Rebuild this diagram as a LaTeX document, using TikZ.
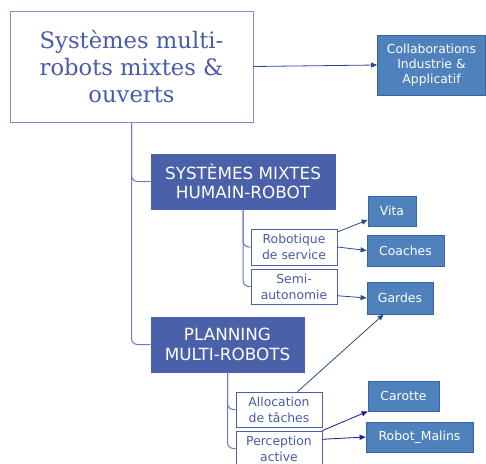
\documentclass[tikz,border=0pt]{standalone}
\usepackage{fontspec}
\setmainfont{DejaVu Sans}
\newfontfamily\titlefont{DejaVu Serif}
\usetikzlibrary{arrows.meta}
\definecolor{titleblue}{RGB}{74,91,168}
\definecolor{rootline}{RGB}{127,143,200}
\definecolor{darkbox}{RGB}{74,96,168}
\definecolor{leafblue}{RGB}{79,129,189}
\definecolor{leafline}{RGB}{58,100,160}
\definecolor{treeline}{RGB}{105,122,190}
\definecolor{arrowblue}{RGB}{45,75,135}
\definecolor{navy}{RGB}{30,30,150}
\tikzset{
  sized/.style 2 args={minimum width=#1*0.75pt, minimum height=#2*0.75pt, inner sep=0pt},
  rootbox/.style={draw=rootline, line width=0.75pt, fill=white, text=titleblue,
    font=\titlefont\fontsize{17}{20.5}\selectfont, align=center},
  mainbox/.style={draw=darkbox, fill=darkbox, text=white,
    font=\fontsize{12.6}{14.5}\selectfont, align=center},
  subbox/.style={draw=darkbox, line width=0.6pt, fill=white, text=titleblue,
    font=\fontsize{9.3}{12}\selectfont, align=center},
  leafbox/.style={draw=leafline, line width=0.6pt, fill=leafblue, text=white,
    font=\fontsize{9.3}{11}\selectfont, align=center},
  tree/.style={draw=treeline, line width=0.75pt, rounded corners=4.5pt},
  link/.style={draw=arrowblue, line width=0.6pt, -{Triangle[length=4.5pt,width=3.8pt]}},
  navylink/.style={link, draw=navy, fill=navy}
}
\begin{document}
\begin{tikzpicture}[x=0.75pt,y=-0.75pt]
\useasboundingbox (0,0) rectangle (486,464);
\begin{scope}
\clip (0,0) rectangle (486,464);
% racine
\node [rootbox, sized={243}{111}] (root) at (131.5,66.5) {Systèmes multi-\\robots mixtes \&\\ouverts};
\node [leafbox, sized={108}{60}] (collab) at (431.5,65) {Collaborations\\Industrie \&\\Applicatif};
% deux branches
\node [mainbox, sized={184}{55}] (sys) at (243,181.5) {SYSTÈMES MIXTES\\HUMAIN-ROBOT};
\node [mainbox, sized={153}{55}] (plan) at (227.5,344.5) {PLANNING\\MULTI-ROBOTS};
% sous-themes
\node [subbox, sized={86}{36}] (robo) at (294,247) {Robotique\\de service};
\node [subbox, sized={86}{35}] (semi) at (294,286.5) {Semi-\\autonomie};
\node [subbox, sized={86}{35}] (alloc) at (279,409.5) {Allocation\\de tâches};
\node [subbox, sized={86}{35}] (perc) at (279,448.5) {Perception\\active};
% projets
\node [leafbox, sized={48}{30}] (vita) at (392,211) {Vita};
\node [leafbox, sized={77}{31}] (coach) at (405.5,250.5) {Coaches};
\node [leafbox, sized={66}{32}] (gardes) at (400,298) {Gardes};
\node [leafbox, sized={71}{30}] (carotte) at (403.5,396) {Carotte};
\node [leafbox, sized={107}{30}] (robmal) at (419.5,437) {Robot\_Malins};
% arbre
\draw [tree] (root.south) |- (sys.west);
\draw [tree] (root.south) |- (plan.west);
\draw [tree] (sys.south) |- (robo.west);
\draw [tree] (sys.south) |- (semi.west);
\draw [tree] (plan.south) |- (alloc.west);
\draw [tree] (plan.south) |- (perc.west);
% fleches
\draw [link] (root.east) -- (collab.west);
\draw [link] (robo.19) -- (vita.200);
\draw [link] (robo.east) -- (coach.west);
\draw [link] (semi.-12) -- (gardes.west);
\draw [link] (alloc.44) -- (gardes.225);
\draw [navylink] (perc.north east) -- (carotte.south west);
\draw [navylink] (perc.12) -- (robmal.west);
\end{scope}
\end{tikzpicture}
\end{document}
